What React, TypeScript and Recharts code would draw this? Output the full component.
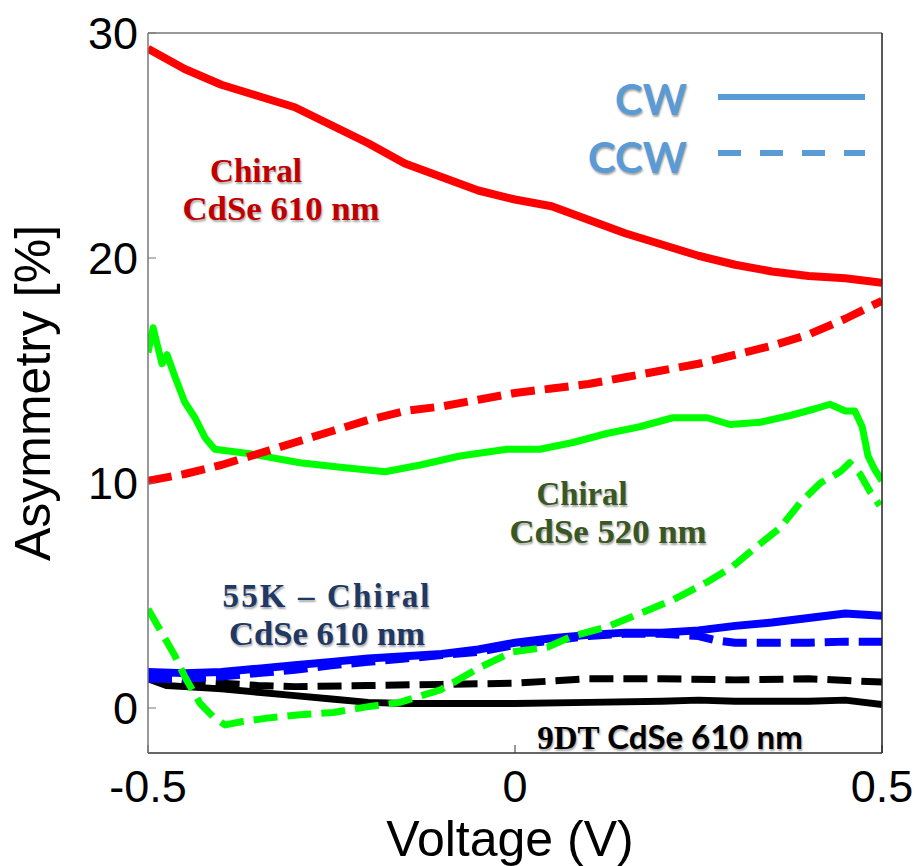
import { LineChart, Line, XAxis, YAxis } from 'recharts';

// Chiral CdSe 610 nm
const redCwV = [-0.5, -0.45, -0.4, -0.35, -0.3, -0.25, -0.2, -0.15, -0.1, -0.05, 0, 0.05, 0.1, 0.15, 0.2, 0.25, 0.3, 0.35, 0.4, 0.45, 0.5];
const redCwA = [29.3, 28.4, 27.7, 27.2, 26.7, 25.9, 25.1, 24.2, 23.6, 23.0, 22.6, 22.3, 21.7, 21.1, 20.6, 20.1, 19.7, 19.4, 19.2, 19.1, 18.9];
const redCcwV = redCwV;
const redCcwA = [10.1, 10.4, 10.8, 11.3, 11.8, 12.3, 12.8, 13.2, 13.4, 13.7, 14.0, 14.2, 14.4, 14.7, 15.0, 15.3, 15.7, 16.1, 16.6, 17.3, 18.1];

// Chiral CdSe 520 nm
const greenCwV = [-0.5, -0.493, -0.481, -0.474, -0.463, -0.45, -0.436, -0.422, -0.409, -0.361, -0.293, -0.238, -0.177, -0.129, -0.075, -0.011, 0.034, 0.079, 0.125, 0.17, 0.215, 0.262, 0.293, 0.334, 0.375, 0.409, 0.429, 0.45, 0.463, 0.473, 0.481, 0.49, 0.5];
const greenCwA = [15.8, 16.9, 15.3, 15.7, 14.7, 13.6, 12.9, 12.0, 11.5, 11.3, 10.9, 10.7, 10.5, 10.8, 11.2, 11.5, 11.5, 11.8, 12.2, 12.5, 12.9, 12.9, 12.6, 12.7, 13.0, 13.3, 13.5, 13.2, 13.2, 12.5, 11.2, 10.6, 10.1];
const greenCcwV = [-0.5, -0.484, -0.463, -0.45, -0.429, -0.411, -0.395, -0.371, -0.338, -0.293, -0.248, -0.202, -0.157, -0.102, -0.075, -0.048, -0.003, 0.044, 0.079, 0.125, 0.17, 0.215, 0.262, 0.297, 0.33, 0.361, 0.388, 0.416, 0.443, 0.456, 0.47, 0.484, 0.497];
const greenCcwA = [4.4, 3.5, 2.3, 1.4, 0.2, -0.4, -0.75, -0.6, -0.45, -0.3, -0.2, 0.05, 0.25, 0.8, 1.3, 1.8, 2.5, 2.7, 3.2, 3.6, 4.2, 4.8, 5.6, 6.3, 7.2, 8.0, 9.1, 10.0, 10.5, 10.9, 10.4, 9.6, 9.0];

// 55K - Chiral CdSe 610 nm
const blueCwV = redCwV;
const blueCwA = [1.6, 1.55, 1.6, 1.75, 1.9, 2.05, 2.2, 2.3, 2.4, 2.6, 2.9, 3.1, 3.25, 3.35, 3.35, 3.45, 3.65, 3.8, 4.0, 4.2, 4.1];
const blueCcwV = [-0.5, -0.45, -0.4, -0.35, -0.3, -0.25, -0.2, -0.15, -0.1, -0.05, 0, 0.05, 0.1, 0.15, 0.2, 0.25, 0.275, 0.3, 0.35, 0.4, 0.45, 0.5];
const blueCcwA = [1.3, 1.3, 1.4, 1.55, 1.7, 1.9, 2.05, 2.2, 2.35, 2.5, 2.8, 3.0, 3.2, 3.3, 3.3, 3.2, 3.0, 2.9, 2.9, 2.9, 2.95, 2.95];

// 9DT CdSe 610 nm
const blackCwV = [-0.5, -0.475, -0.45, -0.4, -0.35, -0.3, -0.25, -0.2, -0.15, -0.1, 0, 0.1, 0.2, 0.25, 0.3, 0.4, 0.45, 0.5];
const blackCwA = [1.3, 1.0, 0.95, 0.85, 0.7, 0.55, 0.4, 0.25, 0.2, 0.2, 0.2, 0.25, 0.3, 0.35, 0.3, 0.3, 0.35, 0.15];
const blackCcwV = [-0.5, -0.45, -0.4, -0.35, -0.3, -0.2, -0.1, 0, 0.05, 0.1, 0.2, 0.3, 0.4, 0.5];
const blackCcwA = [1.4, 1.2, 1.1, 1.0, 0.95, 1.0, 1.05, 1.1, 1.2, 1.3, 1.3, 1.25, 1.3, 1.15];

const xTicks = [-0.5, 0, 0.5];
const yTicks = [0, 10, 20, 30];

const toPoints = (vs: number[], as: number[]) => vs.map((v, i) => ({ v, a: as[i] }));

// drawing order matters where curves cross
const series = [
  { id: 'blackCw', pts: toPoints(blackCwV, blackCwA), color: '#000000', dashed: false, width: 7 },
  { id: 'blackCcw', pts: toPoints(blackCcwV, blackCcwA), color: '#000000', dashed: true, width: 7 },
  { id: 'blueCw', pts: toPoints(blueCwV, blueCwA), color: '#0000ff', dashed: false, width: 8 },
  { id: 'blueCcw', pts: toPoints(blueCcwV, blueCcwA), color: '#0000ff', dashed: true, width: 8 },
  { id: 'greenCw', pts: toPoints(greenCwV, greenCwA), color: '#00ff00', dashed: false, width: 7 },
  { id: 'redCcw', pts: toPoints(redCcwV, redCcwA), color: '#ff0000', dashed: true, width: 8 },
  { id: 'greenCcw', pts: toPoints(greenCcwV, greenCcwA), color: '#00ff00', dashed: true, width: 7 },
  { id: 'redCw', pts: toPoints(redCwV, redCwA), color: '#ff0000', dashed: false, width: 8 },
];

const sans = '"Liberation Sans", Arial, sans-serif';
const serif = '"Liberation Serif", "Times New Roman", serif';
const calibriLike = 'Lato, "Open Sans", sans-serif';
const shadow = '1px 2px 2px rgba(0,0,0,0.35)';

const W = 916;
const H = 866;

export default function App() {
  return (
    <div style={{ position: 'absolute', left: 0, top: 0, width: W, height: H, background: '#fff' }}>
      <LineChart width={W} height={H} margin={{ top: 32, right: 33, bottom: 112, left: 147 }}>
        <XAxis
          xAxisId="bottom"
          orientation="bottom"
          dataKey="v"
          type="number"
          domain={[-0.5, 0.5]}
          ticks={xTicks}
          height={1}
          tickSize={-8}
          tickMargin={25}
          axisLine={{ stroke: '#333', strokeWidth: 1.5 }}
          tickLine={{ stroke: '#333' }}
          tick={{ fill: '#000', fontSize: 45, fontFamily: sans }}
          tickFormatter={(v: number) => String(v)}
          allowDataOverflow
        />
        <XAxis
          xAxisId="top"
          orientation="top"
          dataKey="v"
          type="number"
          domain={[-0.5, 0.5]}
          ticks={xTicks}
          height={1}
          tickSize={-8}
          axisLine={{ stroke: '#777', strokeWidth: 1.5 }}
          tickLine={{ stroke: '#555' }}
          tick={false}
        />
        <YAxis
          yAxisId="left"
          orientation="left"
          type="number"
          domain={[-2, 30]}
          ticks={yTicks}
          width={1}
          tickSize={-8}
          tickMargin={18}
          axisLine={{ stroke: '#777', strokeWidth: 1.5 }}
          tickLine={{ stroke: '#777' }}
          tick={{ fill: '#000', fontSize: 45, fontFamily: sans }}
          allowDataOverflow
        />
        <YAxis
          yAxisId="right"
          orientation="right"
          type="number"
          domain={[-2, 30]}
          ticks={yTicks}
          width={1}
          tickSize={-8}
          axisLine={{ stroke: '#222', strokeWidth: 1.5 }}
          tickLine={{ stroke: '#555' }}
          tick={false}
        />
        {series.map((s) => (
          <Line
            key={s.id}
            xAxisId="bottom"
            yAxisId="left"
            data={s.pts}
            dataKey="a"
            type="linear"
            stroke={s.color}
            strokeWidth={s.width}
            strokeDasharray={s.dashed ? '24 10' : undefined}
            strokeLinejoin="round"
            dot={false}
            activeDot={false}
            isAnimationActive={false}
          />
        ))}
      </LineChart>
      <svg
        width={W}
        height={H}
        style={{ position: 'absolute', left: 0, top: 0, pointerEvents: 'none' }}
      >
        <text x={510} y={856} textAnchor="middle" fontFamily={sans} fontSize={50} fill="#000">
          Voltage (V)
        </text>
        <text
          transform="rotate(-90)"
          x={-393}
          y={50}
          textAnchor="middle"
          fontFamily={sans}
          fontSize={50}
          fill="#000"
        >
          Asymmetry [%]
        </text>

        {/* legend */}
        <g style={{ textShadow: shadow }} fontFamily={calibriLike} fontWeight={700} fontSize={42} fill="#5b9bd5">
          <text x={687} y={115} textAnchor="end">CW</text>
          <text x={687} y={173} textAnchor="end">CCW</text>
        </g>
        <line x1={718} y1={97} x2={865} y2={97} stroke="#5b9bd5" strokeWidth={6} />
        <line x1={718} y1={153} x2={865} y2={153} stroke="#5b9bd5" strokeWidth={6} strokeDasharray="23 19" />

        {/* annotations */}
        <g style={{ textShadow: shadow }} fontFamily={serif} fontWeight={700} fontSize={33}>
          <text x={256} y={182} textAnchor="middle" fill="#c00000" textLength={92} lengthAdjust="spacingAndGlyphs">Chiral</text>
          <text x={281} y={220} textAnchor="middle" fill="#c00000" textLength={197} lengthAdjust="spacingAndGlyphs">CdSe 610 nm</text>
          <text x={582} y={505} textAnchor="middle" fill="#385723" textLength={91} lengthAdjust="spacingAndGlyphs">Chiral</text>
          <text x={608} y={543} textAnchor="middle" fill="#385723" textLength={197} lengthAdjust="spacingAndGlyphs">CdSe 520 nm</text>
          <text x={326} y={607} textAnchor="middle" fill="#1f3864" textLength={207} lengthAdjust="spacing">55K  –  Chiral</text>
          <text x={327} y={645} textAnchor="middle" fill="#1f3864" textLength={196} lengthAdjust="spacingAndGlyphs">CdSe 610 nm</text>
          <text x={670} y={749} textAnchor="middle" fill="#000">
            9DT <tspan fontFamily={calibriLike}>CdSe 610 nm</tspan>
          </text>
        </g>
      </svg>
    </div>
  );
}
